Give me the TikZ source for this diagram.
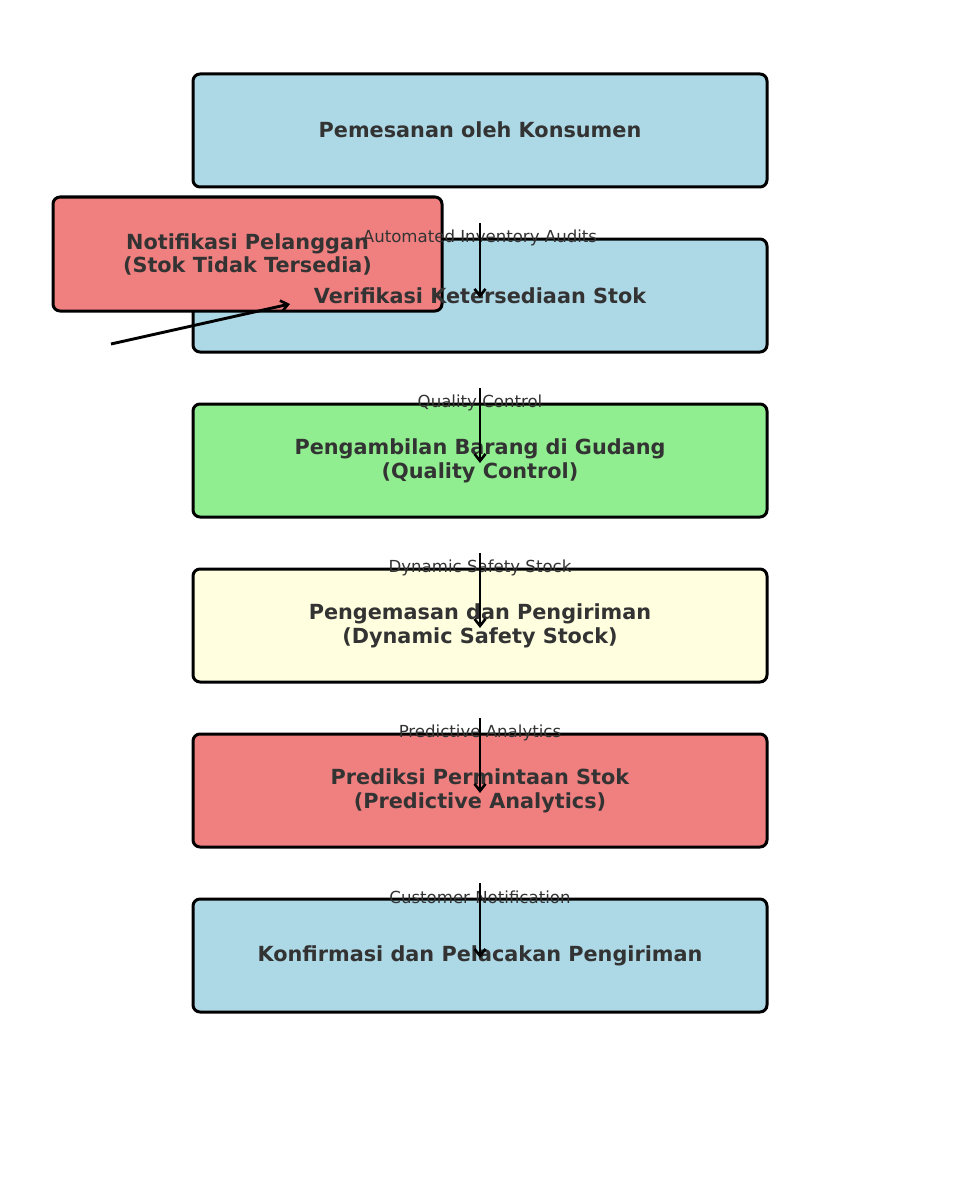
\documentclass[tikz,border=0pt]{standalone}
\usepackage{fontspec}
\setmainfont{DejaVu Sans}
\usetikzlibrary{arrows.meta}
\definecolor{lblue}{HTML}{ADD8E6}
\definecolor{lcoral}{HTML}{F08080}
\definecolor{lgreen}{HTML}{90EE90}
\definecolor{lyellow}{HTML}{FFFFE0}
\definecolor{txt}{HTML}{333333}
\tikzset{
  boxshape/.style={draw=black, line width=3pt, rounded corners=7pt, inner sep=0pt},
  wide/.style={boxshape, minimum width=574pt, minimum height=113pt},
  boxtext/.style={text=txt, font=\fontsize{20.8}{23.5}\selectfont\bfseries, align=center, inner sep=0pt},
  lbl/.style={text=txt, font=\fontsize{16.6}{19}\selectfont, inner sep=0pt},
  flow/.style={line width=2.9pt, -{Straight Barb[length=7pt,width=11pt,line width=2.6pt]}}
}
\begin{document}
\begin{tikzpicture}[x=1pt,y=-1pt]
\useasboundingbox (0,0) rectangle (959,1185);
% boxes
\node[wide, fill=lblue] (b1) at (480,130.5) {};
\node[wide, fill=lblue] (b2) at (480,295.5) {};
\node[wide, fill=lgreen] (b3) at (480,460.5) {};
\node[wide, fill=lyellow] (b4) at (480,625.5) {};
\node[wide, fill=lcoral] (b5) at (480,790.5) {};
\node[wide, fill=lblue] (b6) at (480,955.5) {};
\node[boxshape, fill=lcoral, minimum width=389pt, minimum height=114pt] (n) at (247.5,254) {};
% texts
\node[boxtext] (t1) at (480,130) {Pemesanan oleh Konsumen};
\node[boxtext] (t2) at (480,295.5) {Verifikasi Ketersediaan Stok};
\node[boxtext] (t3) at (480,461) {Pengambilan Barang di Gudang\\(Quality Control)};
\node[boxtext] (t4) at (480,626) {Pengemasan dan Pengiriman\\(Dynamic Safety Stock)};
\node[boxtext] (t5) at (480,791) {Prediksi Permintaan Stok\\(Predictive Analytics)};
\node[boxtext] (t6) at (480,955.5) {Konfirmasi dan Pelacakan Pengiriman};
\node[boxtext] (tn) at (247.5,254.5) {Notifikasi Pelanggan\\(Stok Tidak Tersedia)};
% labels
\node[lbl] (l1) at (480,237.5) {Automated Inventory Audits};
\node[lbl] (l2) at (480,402.5) {Quality Control};
\node[lbl] (l3) at (480,567.5) {Dynamic Safety Stock};
\node[lbl] (l4) at (480,732.5) {Predictive Analytics};
\node[lbl] (l5) at (480,897.5) {Customer Notification};
% arrow anchor coordinates
\coordinate (s1) at (480,223); \coordinate (e1) at (480,298);
\coordinate (s2) at (480,388); \coordinate (e2) at (480,463);
\coordinate (s3) at (480,553); \coordinate (e3) at (480,628);
\coordinate (s4) at (480,718); \coordinate (e4) at (480,793);
\coordinate (s5) at (480,883); \coordinate (e5) at (480,958);
\coordinate (ds) at (111,344); \coordinate (de) at (290,304);
\draw[flow] (s1) -- (e1);
\draw[flow] (s2) -- (e2);
\draw[flow] (s3) -- (e3);
\draw[flow] (s4) -- (e4);
\draw[flow] (s5) -- (e5);
\draw[flow] (ds) -- (de);
\end{tikzpicture}
\end{document}
